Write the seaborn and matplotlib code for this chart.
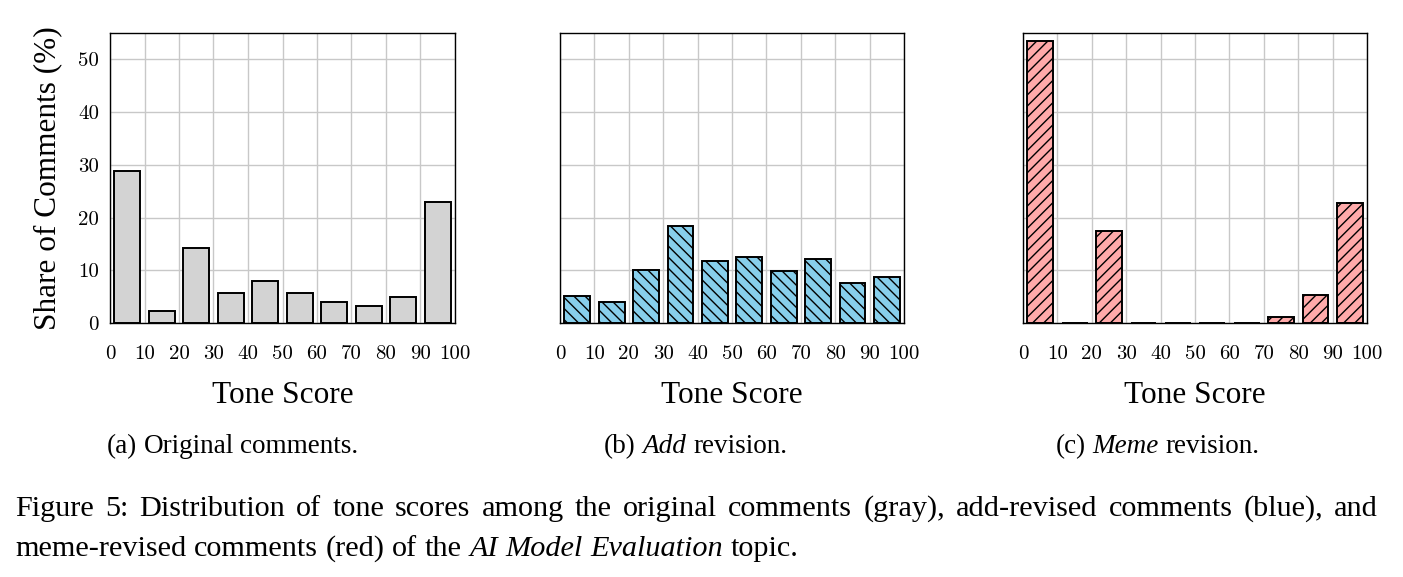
import os
import matplotlib
matplotlib.use("Agg")
import matplotlib.pyplot as plt
import seaborn as sns
import pandas as pd
from matplotlib.transforms import IdentityTransform
from matplotlib.font_manager import FontProperties

# ---------------- data ----------------
tone_bins = [5, 15, 25, 35, 45, 55, 65, 75, 85, 95]
x_ticks = [0, 10, 20, 30, 40, 50, 60, 70, 80, 90, 100]
y_ticks = [0, 10, 20, 30, 40, 50]
original_share = [28.9, 2.3, 14.3, 5.6, 8.0, 5.6, 4.0, 3.3, 5.0, 22.9]
add_share = [5.2, 4.0, 10.0, 18.4, 11.7, 12.5, 9.8, 12.1, 7.6, 8.8]
meme_share = [53.4, 0.0, 17.5, 0.0, 0.0, 0.0, 0.0, 1.1, 5.4, 22.8]

x_label = "Tone Score"
y_label = "Share of Comments (%)"

sns.set_theme(style="white")
plt.rcParams["font.family"] = ["Liberation Serif", "DejaVu Serif"]
plt.rcParams["hatch.linewidth"] = 1.0
plt.rcParams["hatch.color"] = "black"
plt.rcParams["text.color"] = "black"
plt.rcParams["axes.labelcolor"] = "black"
plt.rcParams["xtick.color"] = "black"
plt.rcParams["ytick.color"] = "black"

cm_path = os.path.join(matplotlib.get_data_path(), "fonts", "ttf", "cmr10.ttf")
if os.path.exists(cm_path):
    tick_font = FontProperties(fname=cm_path, size=15)
else:
    tick_font = FontProperties(family="DejaVu Serif", size=12)

W, H = 1403, 577
fig = plt.figure(figsize=(W / 100, H / 100), dpi=100)
fig.patch.set_facecolor("white")

def px_axes(left, top, right, bottom):
    return [left / W, 1 - bottom / H, (right - left) / W, (bottom - top) / H]

panels = [
    (px_axes(110, 33, 455, 323), original_share, "#d3d3d3", None, True),
    (px_axes(560, 33, 904, 323), add_share, "#87ceeb", "\\\\\\", False),
    (px_axes(1023, 33, 1367, 323), meme_share, "#ffaaaa", "///", False),
]

for rect, vals, color, hatch, show_y in panels:
    ax = fig.add_axes(rect)
    df = pd.DataFrame({"tone": tone_bins, "share": vals})
    sns.barplot(data=df, x="tone", y="share", native_scale=True, width=0.75,
                color=color, saturation=1, edgecolor="black", linewidth=1.4,
                ax=ax, zorder=3)
    for p in ax.patches:
        if hatch:
            p.set_hatch(hatch)
    ax.set_xlim(0, 100)
    ax.set_ylim(0, 55)
    ax.set_xticks(x_ticks)
    ax.set_yticks(y_ticks)
    ax.grid(True, color="#c8c8c8", linewidth=1.0, zorder=0)
    ax.set_axisbelow(True)
    for s in ax.spines.values():
        s.set_visible(True)
        s.set_color("black")
        s.set_linewidth(1.0)
    ax.tick_params(axis="both", length=0)
    ax.tick_params(axis="x", pad=16)
    ax.tick_params(axis="y", pad=8)
    ax.set_xticklabels([str(t) for t in x_ticks], fontproperties=tick_font)
    if show_y:
        ax.set_yticklabels([str(t) for t in y_ticks], fontproperties=tick_font)
        ax.set_ylabel(y_label, fontsize=22.5, labelpad=11)
    else:
        ax.set_yticklabels([])
        ax.set_ylabel("")
    ax.set_xlabel(x_label, fontsize=22.5, labelpad=13)

# ---------------- captions ----------------
renderer = fig.canvas.get_renderer()
SUB_SIZE = 19.5
CAP_SIZE = 21.8

def width_of(s, style, size):
    t = fig.text(0, 0, s, fontsize=size, style=style, transform=IdentityTransform())
    w = t.get_window_extent(renderer).width
    t.remove()
    return w

def space_width(size):
    return width_of("x x", "normal", size) - width_of("xx", "normal", size)

def draw_runs(words, x0, y_base, size, ha="left", target_width=None):
    """words: list of (text, style); drawn with spaces between words."""
    widths = [width_of(w, st, size) for w, st in words]
    sp = space_width(size)
    gaps = len(words) - 1
    if target_width is not None and gaps > 0:
        sp = (target_width - sum(widths)) / gaps
    total = sum(widths) + sp * gaps
    x = x0 - total / 2 if ha == "center" else x0
    for (w, st), wd in zip(words, widths):
        fig.text(x, y_base, w, fontsize=size, style=st, ha="left", va="baseline",
                 transform=IdentityTransform())
        x += wd + sp

def words_of(text, style="normal"):
    return [(w, style) for w in text.split()]

sub_base = H - 453
draw_runs(words_of("(a) Original comments."), 232.5, sub_base, SUB_SIZE, ha="center")
draw_runs(words_of("(b)") + [("Add", "italic")] + words_of("revision."), 695.5, sub_base,
          SUB_SIZE, ha="center")
draw_runs(words_of("(c)") + [("Meme", "italic")] + words_of("revision."), 1157.5, sub_base,
          SUB_SIZE, ha="center")

line1 = words_of("Figure 5: Distribution of tone scores among the original comments (gray), "
                 "add-revised comments (blue), and")
line2 = (words_of("meme-revised comments (red) of the") + words_of("AI Model Evaluation", "italic")
         + words_of("topic."))
draw_runs(line1, 15, H - 516, CAP_SIZE, target_width=1378 - 15)
draw_runs(line2, 15, H - 556, CAP_SIZE)

fig.savefig("out.png", dpi=100, facecolor="white")
